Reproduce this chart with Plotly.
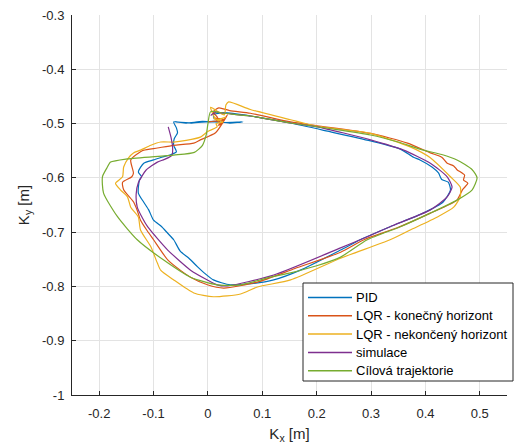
import plotly.graph_objects as go

# ---- data ----
pid_x = [-0.060, -0.030, 0.010, 0.040, 0.064, 0.030, -0.010, -0.040, -0.063, -0.058, -0.056, -0.062, -0.063,
         -0.058, -0.070, -0.085, -0.100, -0.118, -0.128, -0.122, -0.126, -0.128, -0.118, -0.109, -0.100,
         -0.085, -0.074, -0.063, -0.051, -0.035, -0.019, -0.007, 0.010, 0.041, 0.080, 0.121, 0.170, 0.244,
         0.280, 0.335, 0.396, 0.433, 0.446, 0.442, 0.430, 0.424, 0.412, 0.390, 0.378, 0.354, 0.299, 0.220,
         0.152, 0.078, 0.030, 0.010, 0.012]
pid_y = [-0.497, -0.499, -0.496, -0.499, -0.497, -0.498, -0.496, -0.499, -0.497, -0.508, -0.517, -0.528, -0.540,
         -0.552, -0.558, -0.562, -0.567, -0.573, -0.589, -0.598, -0.604, -0.628, -0.645, -0.659, -0.678,
         -0.690, -0.702, -0.714, -0.735, -0.748, -0.764, -0.775, -0.788, -0.797, -0.795, -0.788, -0.770, -0.733,
         -0.714, -0.690, -0.665, -0.644, -0.622, -0.608, -0.603, -0.591, -0.580, -0.567, -0.562, -0.547, -0.532, -0.514,
         -0.499, -0.486, -0.480, -0.484, -0.492]

lqr_k_x = [0.000, 0.030, 0.012, 0.025, 0.019, 0.030, 0.036, 0.014, -0.014, -0.026, -0.063, -0.093, -0.118, -0.124,
           -0.142, -0.137, -0.140, -0.157, -0.155, -0.137, -0.130, -0.124, -0.112, -0.100, -0.074, -0.051, -0.032,
           -0.001, 0.029, 0.091, 0.160, 0.244, 0.287, 0.348, 0.409, 0.458, 0.468, 0.478, 0.470, 0.472, 0.458,
           0.452, 0.440, 0.430, 0.409, 0.367, 0.299, 0.201, 0.152, 0.078, 0.040, 0.020, 0.010, 0.018]
lqr_k_y = [-0.497, -0.493, -0.490, -0.500, -0.503, -0.492, -0.484, -0.517, -0.530, -0.536, -0.540, -0.545, -0.549, -0.552,
           -0.567, -0.591, -0.598, -0.608, -0.622, -0.644, -0.660, -0.678, -0.697, -0.714, -0.751, -0.770, -0.783,
           -0.797, -0.803, -0.792, -0.767, -0.737, -0.714, -0.692, -0.665, -0.641, -0.622, -0.610, -0.604, -0.595, -0.585,
           -0.578, -0.573, -0.562, -0.554, -0.536, -0.518, -0.504, -0.497, -0.481, -0.476, -0.471, -0.478, -0.489]

lqr_n_x = [0.020, 0.010, 0.028, 0.015, 0.017, -0.001, -0.014, -0.040, -0.063, -0.087, -0.105, -0.124, -0.137,
           -0.146, -0.155, -0.157, -0.170, -0.161, -0.148, -0.142, -0.128, -0.124, -0.105, -0.093, -0.087, -0.063,
           -0.026, 0.010, 0.060, 0.091, 0.152, 0.244, 0.335, 0.372, 0.422, 0.452, 0.464, 0.464, 0.446, 0.409,
           0.372, 0.299, 0.201, 0.152, 0.078, 0.038, 0.033, 0.030, 0.005, 0.015, 0.033]
lqr_n_y = [-0.495, -0.490, -0.497, -0.500, -0.506, -0.515, -0.525, -0.531, -0.534, -0.534, -0.540, -0.549, -0.554,
           -0.563, -0.580, -0.598, -0.610, -0.622, -0.635, -0.654, -0.672, -0.696, -0.727, -0.757, -0.770, -0.788,
           -0.812, -0.819, -0.814, -0.801, -0.788, -0.748, -0.714, -0.696, -0.672, -0.654, -0.635, -0.617, -0.598, -0.563,
           -0.543, -0.518, -0.505, -0.493, -0.474, -0.460, -0.466, -0.484, -0.470, -0.492, -0.488]

sim_x = [-0.073, -0.068, -0.065, -0.066, -0.080, -0.093, -0.114, -0.128, -0.132, -0.130, -0.120, -0.111, -0.092,
         -0.074, -0.032, -0.001, 0.017, 0.036, 0.121, 0.244, 0.280, 0.335, 0.409, 0.440, 0.449, 0.440, 0.409,
         0.360, 0.299, 0.201, 0.152, 0.078, 0.030, 0.015, 0.005]
sim_y = [-0.506, -0.525, -0.543, -0.558, -0.566, -0.571, -0.586, -0.609, -0.630, -0.654, -0.675, -0.690, -0.713,
         -0.733, -0.770, -0.788, -0.797, -0.799, -0.779, -0.729, -0.714, -0.690, -0.659, -0.635, -0.617, -0.598, -0.573,
         -0.549, -0.530, -0.506, -0.499, -0.486, -0.481, -0.479, -0.485]

target_x = [0.005, 0.030, 0.078, 0.152, 0.230, 0.299, 0.350, 0.396, 0.430, 0.458, 0.486, 0.495, 0.486, 0.458,
            0.409, 0.354, 0.293, 0.244, 0.200, 0.152, 0.115, 0.060, 0.017, -0.032, -0.082, -0.130, -0.166,
            -0.192, -0.194, -0.186, -0.179, -0.148, -0.063, -0.025, -0.010, -0.003, 0.000, 0.005]
target_y = [-0.478, -0.481, -0.486, -0.499, -0.510, -0.521, -0.534, -0.549, -0.557, -0.567, -0.585, -0.600, -0.622, -0.641,
            -0.665, -0.690, -0.714, -0.746, -0.762, -0.775, -0.783, -0.797, -0.797, -0.783, -0.751, -0.714, -0.672,
            -0.628, -0.598, -0.582, -0.571, -0.565, -0.558, -0.553, -0.540, -0.520, -0.500, -0.478]

series_names = ["PID", "LQR - konečný horizont", "LQR - nekončený horizont", "simulace", "Cílová trajektorie"]
series_colors = ["#0072BD", "#D95319", "#EDB120", "#7E2F8E", "#77AC30"]
series_x = [pid_x, lqr_k_x, lqr_n_x, sim_x, target_x]
series_y = [pid_y, lqr_k_y, lqr_n_y, sim_y, target_y]

x_ticks = [-0.2, -0.1, 0, 0.1, 0.2, 0.3, 0.4, 0.5]
x_tick_labels = ["-0.2", "-0.1", "0", "0.1", "0.2", "0.3", "0.4", "0.5"]
y_ticks = [-1, -0.9, -0.8, -0.7, -0.6, -0.5, -0.4, -0.3]
y_tick_labels = ["-1", "-0.9", "-0.8", "-0.7", "-0.6", "-0.5", "-0.4", "-0.3"]

FONT = "Liberation Sans, Arial, Helvetica"
fig = go.Figure()
for name, xs, ys, col in zip(series_names, series_x, series_y, series_colors):
    fig.add_trace(go.Scatter(x=xs, y=ys, mode="lines", name=name, showlegend=False,
                             line=dict(color=col, width=1.2, shape="spline", smoothing=0.6)))

# ---- legend box drawn in paper coordinates (MATLAB-style long line samples) ----
L_PX, R_PX, T_PX, B_PX = 72, 507, 15, 395
def px(xp):
    return (xp - L_PX) / (R_PX - L_PX)
def py(yp):
    return (B_PX - yp) / (B_PX - T_PX)

shapes = [dict(type="rect", xref="paper", yref="paper", x0=px(303), x1=px(513), y0=py(381), y1=py(283),
               line=dict(color="#262626", width=1), fillcolor="white", layer="above")]
annotations = []
row0, step = 297.5, 18.3
for i, (name, col) in enumerate(zip(series_names, series_colors)):
    yy = row0 + i * step
    shapes.append(dict(type="line", xref="paper", yref="paper", x0=px(308), x1=px(352), y0=py(yy), y1=py(yy),
                       line=dict(color=col, width=1.5), layer="above"))
    annotations.append(dict(xref="paper", yref="paper", x=px(354), y=py(yy), text=name, showarrow=False,
                            xanchor="left", yanchor="middle",
                            font=dict(family=FONT, size=13, color="#000000")))

axis_common = dict(showgrid=True, gridcolor="#e3e3e3", gridwidth=1, zeroline=False,
                   showline=True, linecolor="#262626", linewidth=1, mirror=False,
                   ticks="inside", ticklen=4, tickcolor="#262626",
                   tickfont=dict(family=FONT, size=13, color="#262626"))

fig.update_layout(
    width=515, height=446,
    margin=dict(l=72, r=8, t=15, b=51),
    paper_bgcolor="white", plot_bgcolor="white",
    font=dict(family=FONT, size=13, color="#262626"),
    xaxis=dict(range=[-0.25, 0.55], tickmode="array", tickvals=x_ticks, ticktext=x_tick_labels,
               ticklabelstandoff=6,
               title=dict(text="K<sub>x</sub> [m]", font=dict(family=FONT, size=15), standoff=8), **axis_common),
    yaxis=dict(range=[-1, -0.3], tickmode="array", tickvals=y_ticks, ticktext=y_tick_labels,
               ticklabelstandoff=4,
               title=dict(text="K<sub>y</sub> [m]", font=dict(family=FONT, size=15), standoff=8), **axis_common),
    shapes=shapes,
    annotations=annotations,
    showlegend=False,
)

fig.write_html("out.html")
